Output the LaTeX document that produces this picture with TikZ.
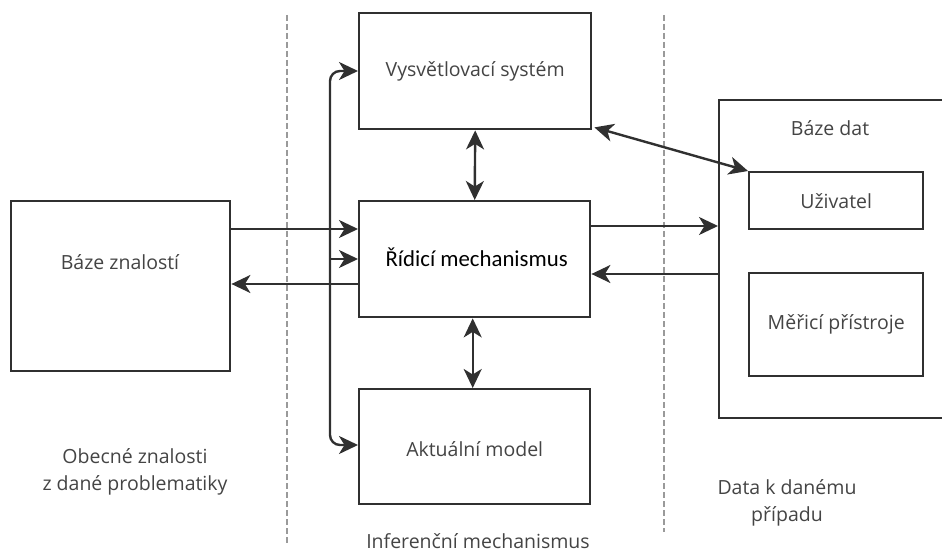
\documentclass[tikz,border=0pt]{standalone}
\usepackage{fontspec}
\setmainfont{Open Sans}
\newfontfamily\calfont{Carlito}
\usetikzlibrary{arrows.meta}
\definecolor{lc}{HTML}{303030}
\definecolor{tc}{HTML}{444444}
\definecolor{gc}{HTML}{9A9A9A}
\begin{document}
\begin{tikzpicture}[x=1pt,y=-1pt,
  box/.style={draw=lc, line width=2.4pt, fill=white, inner sep=0pt, anchor=north west},
  lbl/.style={text=tc, font=\fontsize{19.5}{27}\selectfont, align=center, inner sep=0pt},
  conn/.style={draw=lc, line width=2.4pt, -{Stealth[length=19pt,width=18pt,inset=5.5pt]}},
  dconn/.style={draw=lc, line width=2.4pt, {Stealth[length=19pt,width=18pt,inset=5.5pt]}-{Stealth[length=19pt,width=18pt,inset=5.5pt]}},
  guide/.style={draw=gc, line width=1.6pt, dash pattern=on 6pt off 3pt}]
\useasboundingbox (0,0) rectangle (942,553);
\clip (0,0) rectangle (942,553);
% guides
\draw[guide] (287,15) -- (287,545);
\draw[guide] (664,15) -- (664,532);
% boxes
\node[box, minimum width=219pt, minimum height=170pt] (bz) at (10,200) {};
\node[lbl] (bzt) at (120,262) {Báze znalostí};
\node[box, minimum width=232pt, minimum height=116pt] (vs) at (358,12) {};
\node[lbl] at (vs.center) {Vysvětlovací systém};
\node[box, minimum width=231pt, minimum height=116pt] (rm) at (358,200) {};
\node[inner sep=0pt, font=\calfont\fontsize{22.8}{26}\selectfont, text=black] at ([xshift=2pt,yshift=2pt]rm.center) {Řídicí mechanismus};
\node[box, minimum width=231pt, minimum height=115pt] (am) at (358,388) {};
\node[lbl] at ([yshift=-2pt]am.center) {Aktuální model};
\node[box, minimum width=260pt, minimum height=318pt] (bd) at (718,99) {};
\node[lbl] (bdt) at (830,128) {Báze dat};
\node[box, minimum width=174pt, minimum height=57pt] (uz) at (748,171) {};
\node[lbl] at (uz.center) {Uživatel};
\node[box, minimum width=174pt, minimum height=103pt] (mp) at (748,272) {};
\node[lbl] at (mp.center) {Měřicí přístroje};
% free texts
\node[lbl] (t1) at (135,472) {Obecné znalosti\\z dané problematiky};
\node[lbl] (t2) at (787,503) {Data k danému\\případu};
\node[lbl] (t3) at (478,541) {Inferenční mechanismus};
% bus
\coordinate (bt) at (330,71);
\coordinate (bm) at (330,259);
\coordinate (bb) at (330,445);
\draw[dconn, rounded corners=10pt] (vs.west |- bt) -- (bt) -- (bb) -- (am.west |- bb);
\draw[conn] (bm) -- (rm.west |- bm);
% left connectors
\draw[conn] (bz.east |- 0,229) -- (rm.west |- 0,229);
\draw[conn] (rm.west |- 0,284) -- (bz.east |- 0,284);
% vertical
\draw[dconn] (vs.south) -- (rm.north);
\draw[dconn] ([xshift=-2pt]rm.south) -- ([xshift=-2pt]am.north);
% right
\draw[dconn] ([xshift=2pt,yshift=3pt]vs.south east) -- (uz.north west);
\draw[conn] (rm.east |- 0,226) -- (bd.west |- 0,226);
\draw[conn] (bd.west |- 0,274) -- (rm.east |- 0,274);
\end{tikzpicture}
\end{document}
